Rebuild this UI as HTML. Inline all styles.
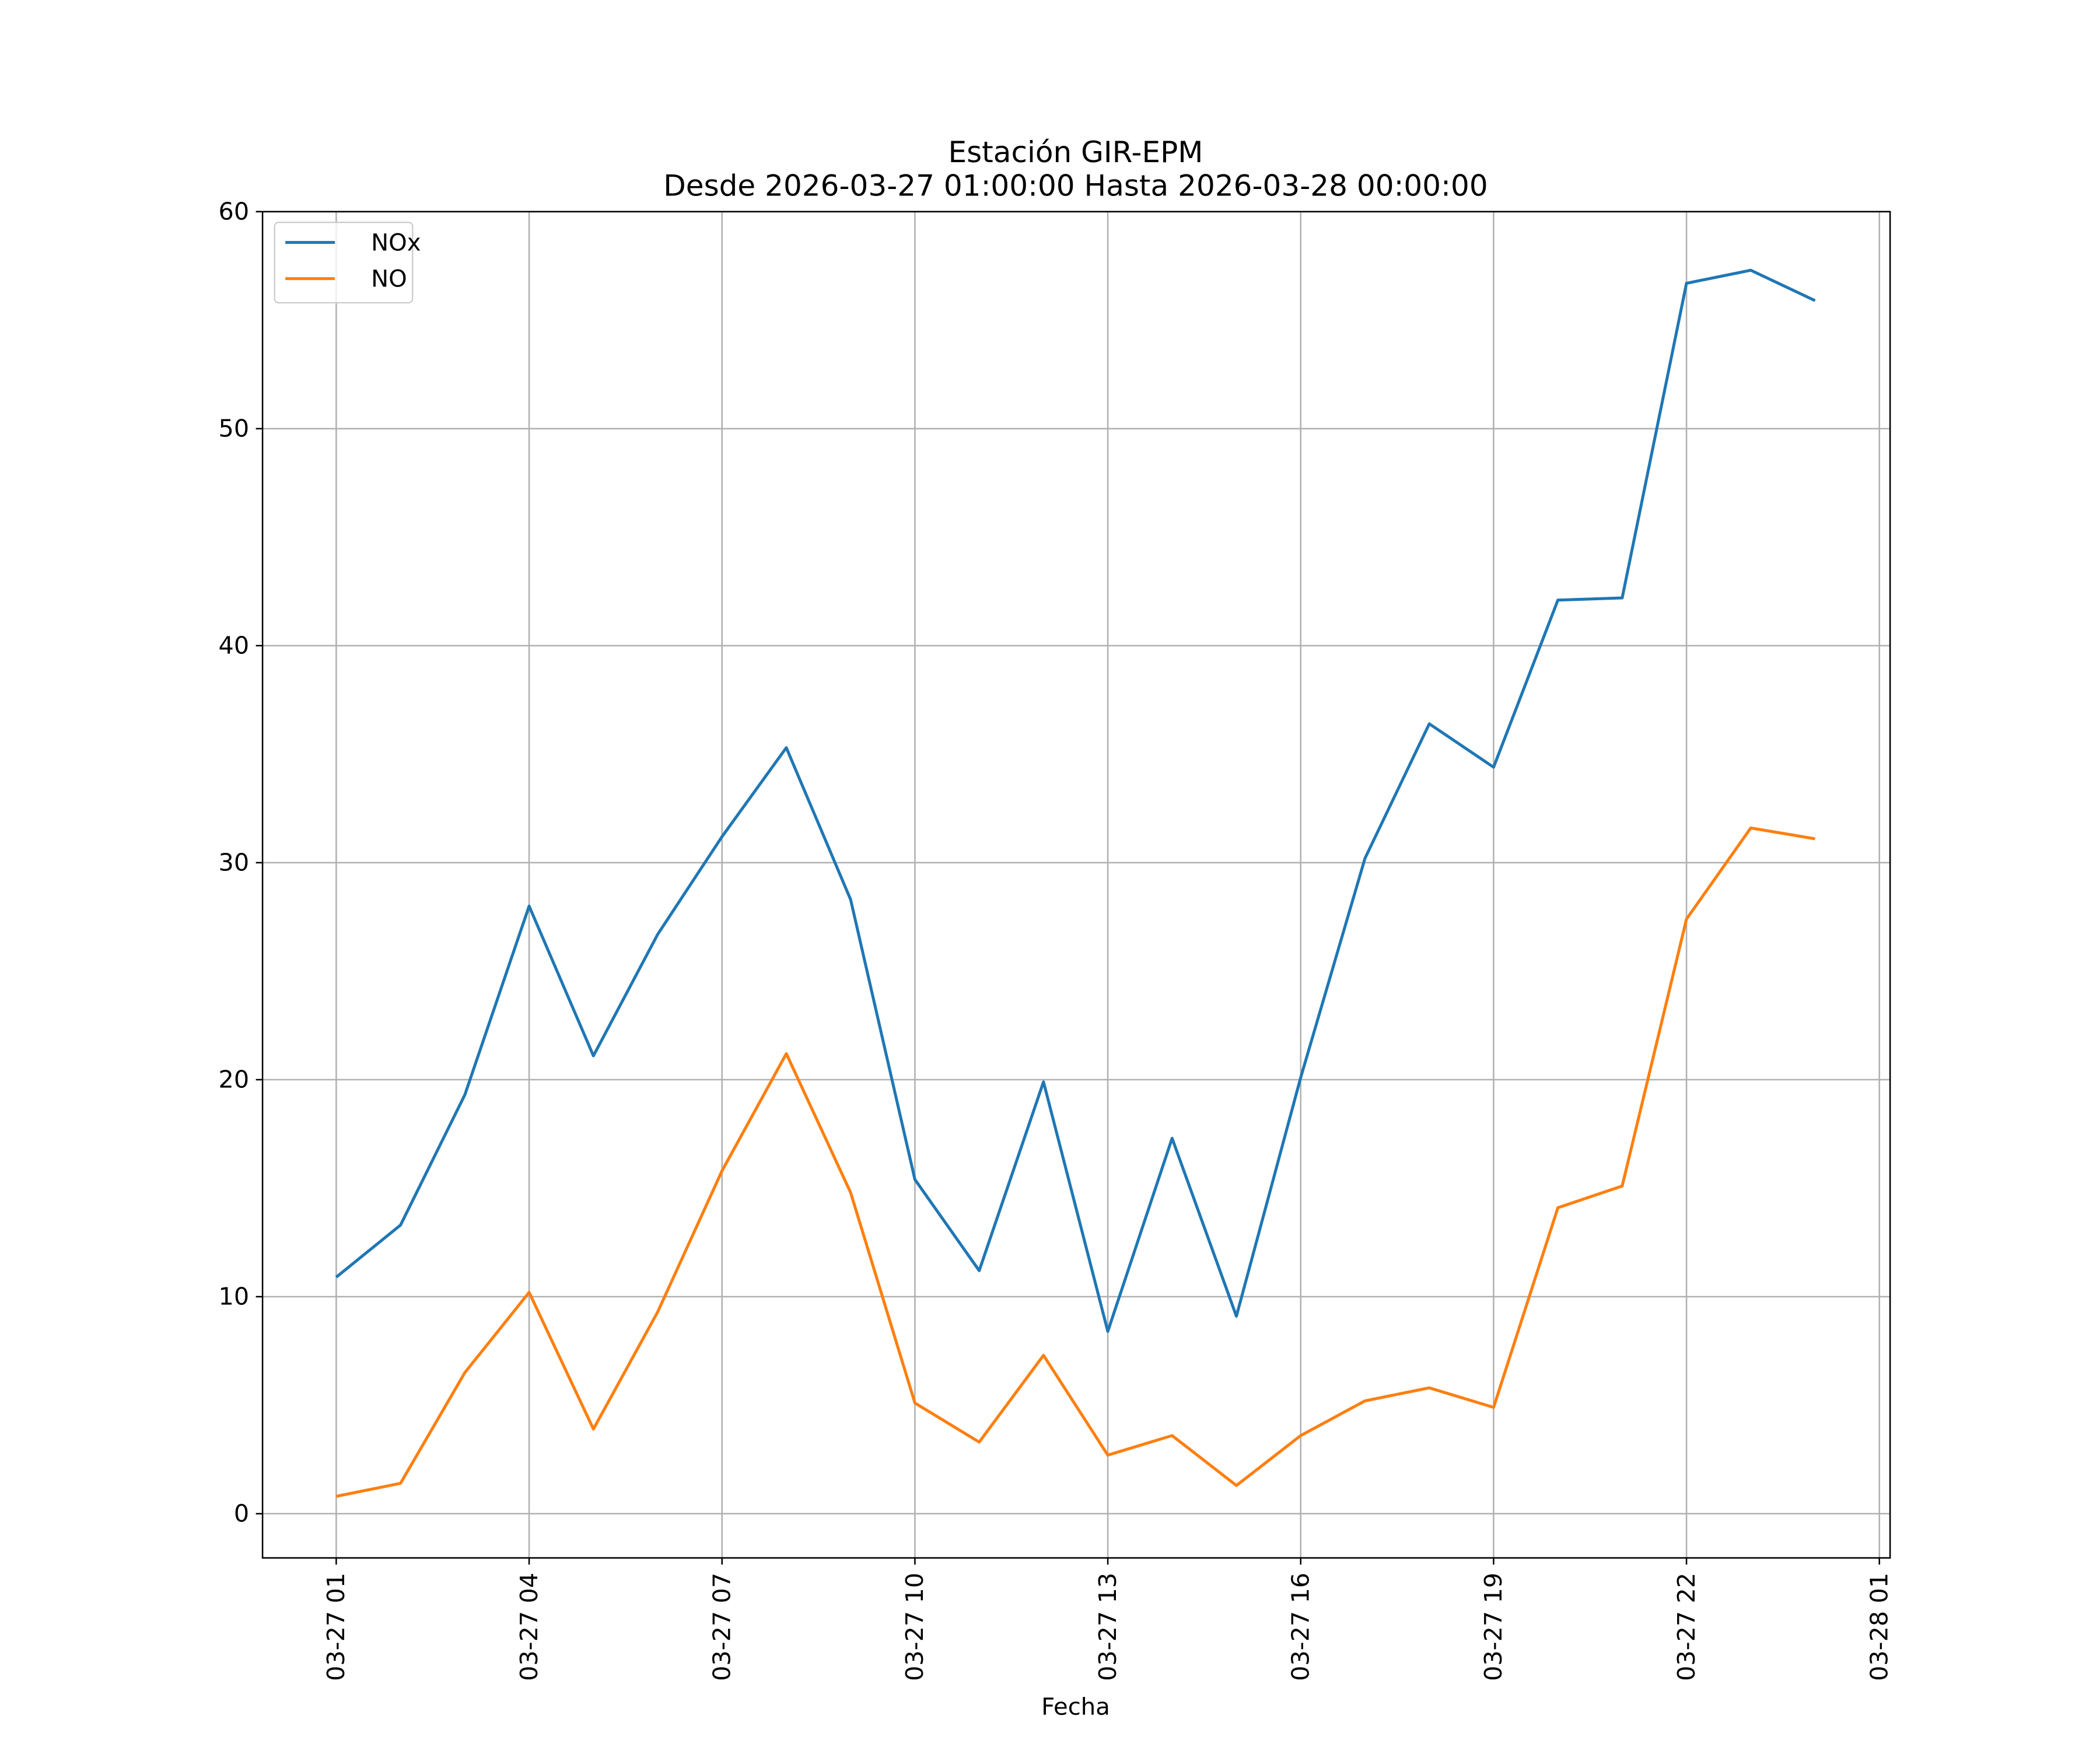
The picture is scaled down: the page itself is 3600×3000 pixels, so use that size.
<!DOCTYPE html>
<html><head><meta charset="utf-8"><style>
html,body{margin:0;padding:0;background:#fff;}
svg{display:block;font-family:"DejaVu Sans","Liberation Sans",sans-serif;}
</style></head><body>
<svg id="chart" width="3600" height="3000" viewBox="0 0 1567.7 1306.4" preserveAspectRatio="none" xmlns="http://www.w3.org/2000/svg">
<rect width="1568" height="1307" fill="#fff"/>
<g id="grid"></g>
<g id="series"></g>
<rect x="196" y="158" width="1215" height="1005" fill="none" stroke="#000" stroke-width="1.1"/>
<g id="ticks"></g>
<text x="803" y="121" font-size="21.8" text-anchor="middle">Estación GIR-EPM</text>
<text x="803" y="146" font-size="21.8" text-anchor="middle">Desde 2026-03-27 01:00:00 Hasta 2026-03-28 00:00:00</text>
<text x="803" y="1280" font-size="17.5" text-anchor="middle">Fecha</text>
<g>
<rect x="205" y="166" width="103" height="60" rx="3" fill="#fff" fill-opacity="0.8" stroke="#ccc"/>
<line x1="213" y1="181" x2="250" y2="181" stroke="#1f77b4" stroke-width="2.2"/>
<text x="277" y="187" font-size="17.5">NOx</text>
<line x1="213" y1="208" x2="250" y2="208" stroke="#ff7f0e" stroke-width="2.2"/>
<text x="277" y="214" font-size="17.5">NO</text>
</g>
</svg>
<script>
const hours = [1,2,3,4,5,6,7,8,9,10,11,12,13,14,15,16,17,18,19,20,21,22,23,24];
const noxValues = [10.9,13.3,19.3,28.0,21.1,26.7,31.2,35.3,28.3,15.4,11.2,19.9,8.4,17.3,9.1,20.1,30.2,36.4,34.4,42.1,42.2,56.7,57.3,55.9];
const noValues = [0.8,1.4,6.5,10.2,3.9,9.3,15.8,21.2,14.8,5.1,3.3,7.3,2.7,3.6,1.3,3.6,5.2,5.8,4.9,14.1,15.1,27.4,31.6,31.1];
const yTicks = [0,10,20,30,40,50,60];
const xTickHours = [1,4,7,10,13,16,19,22,25];
const xTickLabels = ["03-27 01","03-27 04","03-27 07","03-27 10","03-27 13","03-27 16","03-27 19","03-27 22","03-28 01"];

const NS = "http://www.w3.org/2000/svg";
function xs(h){ return 251 + (h-1)*48; }
function ys(v){ return 1130 - v*16.2; }
function mk(tag, attrs, parent){
  const e = document.createElementNS(NS, tag);
  for (const k in attrs) e.setAttribute(k, attrs[k]);
  parent.appendChild(e);
  return e;
}
const grid = document.getElementById('grid');
const ticks = document.getElementById('ticks');
const series = document.getElementById('series');

yTicks.forEach(v => {
  const y = ys(v);
  const g = mk('line', {x1:196, x2:1411, y1:y, y2:y, stroke:'#b0b0b0', 'stroke-width':1.1}, grid);
  
  
  mk('line', {x1:191, x2:196, y1:y, y2:y, stroke:'#000', 'stroke-width':1.1}, ticks);
  const t = mk('text', {x:186, y:y+6, 'font-size':18, 'text-anchor':'end'}, ticks);
  t.textContent = v;
  
  
});
xTickHours.forEach((h, i) => {
  const x = xs(h);
  const g = mk('line', {x1:x, x2:x, y1:158, y2:1163, stroke:'#b0b0b0', 'stroke-width':1.1}, grid);
  
  
  mk('line', {x1:x, x2:x, y1:1163, y2:1168, stroke:'#000', 'stroke-width':1.1}, ticks);
  const t = mk('text', {x:0, y:0, 'font-size':18, 'text-anchor':'end', transform:`translate(${x+6},1174) rotate(-90)`}, ticks);
  t.textContent = xTickLabels[i];
  
  
});
function drawLine(vals, color, name){
  const pts = vals.map((v,i) => xs(hours[i]) + ',' + ys(v)).join(' ');
  const p = mk('polyline', {points:pts, fill:'none', stroke:color, 'stroke-width':2.2, 'stroke-linejoin':'round'}, series);
  
  
}
drawLine(noxValues, '#1f77b4', 'nox-line');
drawLine(noValues, '#ff7f0e', 'no-line');
</script>
</body></html>
